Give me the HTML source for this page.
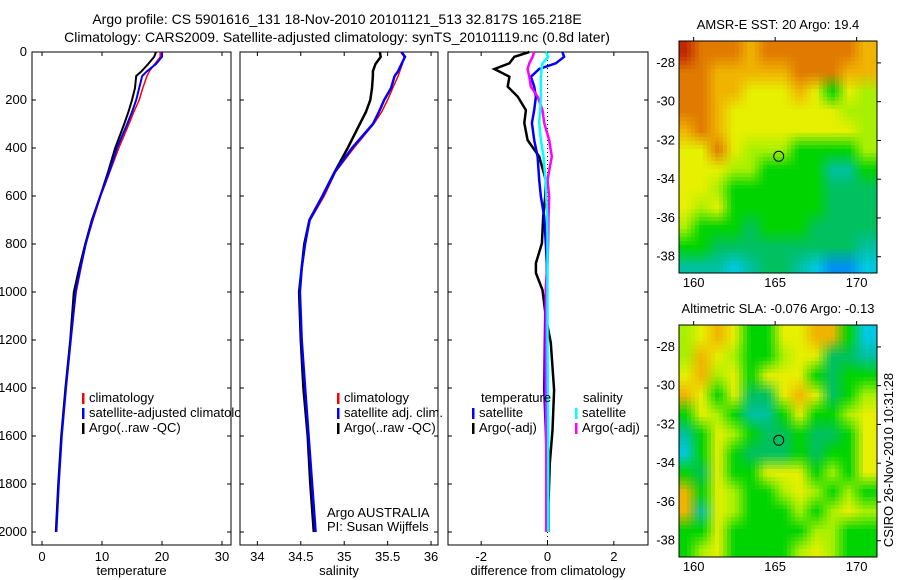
<!DOCTYPE html>
<html><head><meta charset="utf-8"><style>
body{margin:0;background:#fff}
svg{display:block;font-family:"Liberation Sans",sans-serif}
text{font-size:13px;fill:#000}
</style></head><body>
<svg id="s" width="900" height="580" viewBox="0 0 900 580">
<defs>
<clipPath id="c1"><rect x="32" y="45" width="208" height="500"/></clipPath>
<clipPath id="c1b"><rect x="32" y="45" width="199" height="500"/></clipPath>
<clipPath id="c2"><rect x="240" y="45" width="198" height="500"/></clipPath>
<clipPath id="c3"><rect x="448" y="45" width="200" height="500"/></clipPath>
</defs>
<text x="337" y="24" text-anchor="middle" style="font-size:14px">Argo profile: CS 5901616_131 18-Nov-2010 20101121_513 32.817S 165.218E</text>
<text x="337" y="42" text-anchor="middle" style="font-size:14px">Climatology: CARS2009. Satellite-adjusted climatology: synTS_20101119.nc (0.8d later)</text>
<g id="g"></g>
<text transform="translate(893,460) rotate(-90)" text-anchor="middle">CSIRO 26-Nov-2010 10:31:28</text>
</svg>
<script>
// ---- profile data ----
const depthT = [0,20,50,80,100,150,200,250,300,400,500,600,700,800,900,1000,1200,1400,1600,1800,2000];
const tempClim = [19.7,19.7,18.8,17.9,17.5,16.8,16.2,15.3,14.5,12.8,11.3,9.8,8.5,7.3,6.5,5.7,4.8,4.0,3.3,2.8,2.4];
const tempSat  = [20.0,20.0,19.0,17.5,16.7,16.2,15.7,15.0,14.2,12.5,11.2,9.7,8.4,7.3,6.4,5.6,4.8,4.0,3.3,2.8,2.4];
const tempArgo = [19.0,18.7,17.7,16.6,15.7,15.5,15.0,14.4,13.7,12.2,11.0,9.7,8.3,7.2,6.2,5.3,4.7,3.9,3.2,2.7,2.3];
const salClim = [35.65,35.69,35.67,35.64,35.62,35.56,35.50,35.43,35.34,35.11,34.90,34.77,34.61,34.54,34.51,34.49,34.51,34.55,34.59,34.63,34.67];
const salSat  = [35.66,35.70,35.66,35.62,35.58,35.54,35.46,35.40,35.33,35.09,34.89,34.75,34.60,34.55,34.51,34.49,34.51,34.55,34.59,34.63,34.67];
const salArgo = [35.41,35.42,35.36,35.33,35.33,35.32,35.30,35.25,35.18,35.04,34.89,34.75,34.60,34.54,34.51,34.48,34.50,34.53,34.58,34.61,34.65];
const depthD = [0,20,47,71,103,144,186,242,296,367,436,533,603,686,797,880,921,992,1103,1212,1408,1575,1713,1880,2000];
const diffTArgo = [-0.55,-1.0,-1.15,-1.6,-1.15,-1.2,-0.9,-0.65,-0.7,-0.6,-0.25,-0.05,-0.07,-0.13,-0.17,-0.35,-0.35,-0.15,-0.05,0.1,0.2,0.15,0.07,0.03,0.03];
const diffTSat  = [0.45,0.5,0.25,-0.25,-0.5,-0.4,-0.35,-0.4,-0.47,-0.4,-0.3,-0.25,-0.2,-0.1,-0.05,-0.02,-0.02,-0.05,-0.07,-0.08,-0.1,-0.05,-0.02,0,0];
const diffSSat  = [-0.05,0.02,-0.15,-0.18,-0.2,-0.2,-0.2,-0.22,-0.25,-0.2,-0.12,-0.06,-0.04,-0.01,0,0,0,0,0,0,0.01,0.02,0.02,0.02,0.02];
const diffSArgo = [-0.4,-0.45,-0.55,-0.6,-0.55,-0.5,-0.3,-0.15,-0.1,0.05,0.13,0,0.05,0.03,0.02,0,-0.02,-0.05,-0.05,-0.05,-0.05,-0.04,-0.04,-0.04,-0.04];
const depthTicks = [0,200,400,600,800,1000,1200,1400,1600,1800,2000];
const tempTicks = [0,10,20,30];
const salTicks = ["34","34.5","35","35.5","36"];
const diffTicks = [-2,0,2];
const latTicks = [-28,-30,-32,-34,-36,-38];
const lonTicks = [160,165,170];
// map grids (rows lat -27..-38, cols lon 159..170), values at cell centres
const sstRows = ["ROOOAOOOOOOA","OOAAAAAOOOAA","OOAAYYYAYGYL","OOAYYYYYYYLL","AOAYYYYYYYYL","YYOYLLLGGGGL","YYYLLGGGGTTG","YYLGGGGGGggg","YLYGGGGGGggg","LGGGgGGGgggg","GGgggggggggT","TTTCTggTCBBC"];
const slaRows = ["LYAYGGYYAAGC","LAYLGGLYYggT","YALYGYYYGgGG","AYGYggYAYgGL","GYLGTTGYGGLY","TGYLGggGggGY","CGYGgggGgGGY","GgYGGYYYGLGY","AGYLGGLYLGLG","ATYLGGGLGLYL","GGYGGGGGLLGG","GLYGGGGLYLGG"];
const pal = {R:[192,40,0],O:[224,122,0],A:[240,180,0],Y:[230,240,0],L:[168,240,0],G:[0,212,0],g:[0,192,96],T:[0,192,160],C:[0,200,224],B:[0,144,240]};

const NS="http://www.w3.org/2000/svg", G=document.getElementById('g');
function el(t,a,p){const e=document.createElementNS(NS,t);for(const k in a)e.setAttribute(k,a[k]);(p||G).appendChild(e);return e;}
function txt(x,y,s,anchor,p){const e=el('text',{x:x,y:y,'text-anchor':anchor||'start'},p);e.textContent=s;return e;}
const Y0=52, YS=0.24;
const yD=d=>Y0+d*YS;
const panels=[
 {x0:32,x1:231,vmin:-1.67,vmax:31.5,clip:'c1b',label:'temperature',name:'temperature-panel'},
 {x0:240,x1:438,vmin:33.8,vmax:36.08,clip:'c2',label:'salinity',name:'salinity-panel'},
 {x0:448,x1:648,vmin:-3,vmax:3.03,clip:'c3',label:'difference from climatology',name:'difference-panel'}];
panels.forEach(p=>p.sx=v=>p.x0+(v-p.vmin)/(p.vmax-p.vmin)*(p.x1-p.x0));
function line(p,depths,vals,color,w,name){
 const pts=depths.map((d,i)=>p.sx(vals[i]).toFixed(1)+','+yD(d).toFixed(1)).join(' ');
 const e=el('polyline',{points:pts,fill:'none',stroke:color,'stroke-width':w,'clip-path':'url(#'+p.clip+')'});
 
 
}
panels.forEach((p,pi)=>{
 const r=el('rect',{x:p.x0,y:Y0,width:p.x1-p.x0,height:493,fill:'none',stroke:'#000','stroke-width':1});
 
 
 depthTicks.forEach(d=>{el('line',{x1:p.x0,x2:p.x0+4,y1:yD(d),y2:yD(d),stroke:'#000'});el('line',{x1:p.x1,x2:p.x1-4,y1:yD(d),y2:yD(d),stroke:'#000'});
  if(pi===0){const t=txt(27,yD(d)+4,String(d),'end');}});
 const ticks = pi===0?tempTicks:pi===1?salTicks.map(Number):diffTicks;
 const labs = pi===1?salTicks:ticks.map(String);
 ticks.forEach((v,i)=>{const x=p.sx(v);el('line',{x1:x,x2:x,y1:545,y2:541,stroke:'#000'});el('line',{x1:x,x2:x,y1:Y0,y2:Y0+4,stroke:'#000'});
  const t=txt(x,561,labs[i],'middle');});
 const at=txt((p.x0+p.x1)/2,575,p.label,'middle');
 
 
});
const [P1,P2,P3]=panels;
line(P1,depthT,tempClim,'#f00',1.5,'temp-climatology-line');
line(P1,depthT,tempArgo,'#000',2,'temp-argo-line');
line(P1,depthT,tempSat,'#00f',2,'temp-satellite-line');
line(P2,depthT,salClim,'#f00',1.5,'sal-climatology-line');
line(P2,depthT,salArgo,'#000',2.5,'sal-argo-line');
line(P2,depthT,salSat,'#00f',2.5,'sal-satellite-line');
el('line',{x1:P3.sx(0),x2:P3.sx(0),y1:Y0,y2:545,stroke:'#000','stroke-dasharray':'1,3'});
line(P3,depthD,diffTArgo,'#000',2.5,'diff-temp-argo-line');
line(P3,depthD,diffTSat,'#00f',2.5,'diff-temp-satellite-line');
line(P3,depthD,diffSArgo,'#f0f',2.5,'diff-sal-argo-line');
line(P3,depthD,diffSSat,'#0ff',2.5,'diff-sal-satellite-line');
function leg(x,y,c,s,clip){el('rect',{x:x,y:y-9,width:2.5,height:11,fill:c});const t=txt(x+7,y,s,'start');if(clip)t.setAttribute('clip-path','url(#'+clip+')');}
leg(82,402,'#f00','climatology','c1');leg(82,417,'#00f','satellite-adjusted climatology','c1');leg(82,432,'#000','Argo(..raw -QC)','c1');
leg(337,402,'#f00','climatology');leg(337,417,'#00f','satellite adj. clim.');leg(337,432,'#000','Argo(..raw -QC)');
txt(327,517,'Argo AUSTRALIA');txt(327,531,'PI: Susan Wijffels');
txt(481,402,'temperature');txt(583,402,'salinity');
leg(472,417,'#00f','satellite');leg(472,432,'#000','Argo(-adj)');
leg(575,417,'#0ff','satellite');leg(575,432,'#f0f','Argo(-adj)');
// maps
function map(rows,y0,y1,title,name){
 const x0=679,x1=877;
 const lonS=lon=>x0+(lon-159.1)/(171.25-159.1)*(x1-x0);
 const latS=lat=>y0+(-lat-26.87)/(38.84-26.87)*(y1-y0);
 const gg=el('g',{'shape-rendering':'crispEdges'});
 
 
 const nr=rows.length,nc=rows[0].length;
 const col=(r,c)=>pal[rows[Math.max(0,Math.min(nr-1,r))][Math.max(0,Math.min(nc-1,c))]];
 const step=4;
 for(let py=y0;py<y1;py+=step){for(let px=x0;px<x1;px+=step){
  const lon=159.1+(px+step/2-x0)/(x1-x0)*(171.25-159.1);
  const lat=26.87+(py+step/2-y0)/(y1-y0)*(38.84-26.87);
  const fc=lon-159-0.5, fr=lat-27-0.5;
  const c0=Math.floor(fc), r0=Math.floor(fr), tx=fc-c0, ty=fr-r0;
  const a=col(r0,c0),b=col(r0,c0+1),c=col(r0+1,c0),d=col(r0+1,c0+1);
  const rgb=[0,1,2].map(k=>Math.round((a[k]*(1-tx)+b[k]*tx)*(1-ty)+(c[k]*(1-tx)+d[k]*tx)*ty));
  el('rect',{x:px,y:py,width:Math.min(step,x1-px),height:Math.min(step,y1-py),fill:'rgb('+rgb.join(',')+')'},gg);
 }}
 el('rect',{x:x0,y:y0,width:x1-x0,height:y1-y0,fill:'none',stroke:'#000'});
 latTicks.forEach(l=>{const y=latS(l);el('line',{x1:x1,x2:x1+4,y1:y,y2:y,stroke:'#000'});const t=txt(675,y+4,String(l),'end');});
 lonTicks.forEach(l=>{const x=lonS(l);el('line',{x1:x,x2:x,y1:y0,y2:y0-4,stroke:'#000'});const t=txt(x,y1+14,String(l),'middle');});
 const c=el('circle',{cx:lonS(165.218),cy:latS(-32.817),r:5,fill:'none',stroke:'#000'});
 
 
 const t=txt(778,y0-12,title,'middle');
 
 
}
map(sstRows,41,273,'AMSR-E SST: 20 Argo: 19.4','sst-map');
map(slaRows,325,557,'Altimetric SLA: -0.076 Argo: -0.13','sla-map');
</script>
</body></html>
